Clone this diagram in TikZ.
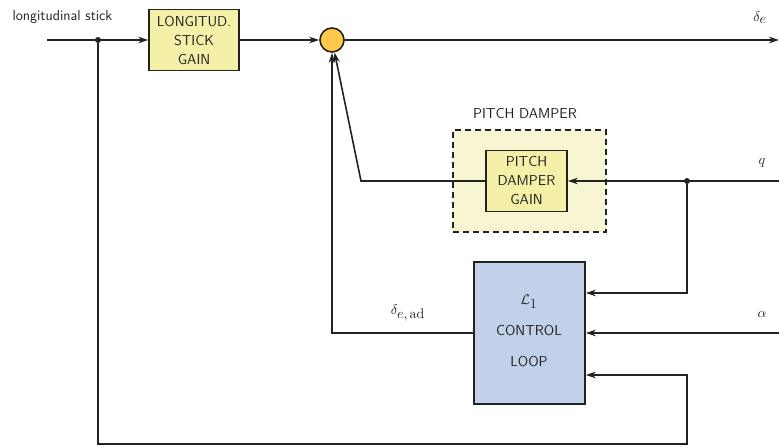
\documentclass[tikz,border=0pt]{standalone}
\usepackage{fontspec}
\usepackage{graphicx}
\usetikzlibrary{arrows.meta}
\definecolor{lnc}{HTML}{222222}
\definecolor{gainfill}{HTML}{F5F0A8}
\definecolor{pdfill}{HTML}{F8F6D2}
\definecolor{sumfill}{HTML}{FFC84A}
\definecolor{l1fill}{HTML}{C1D1EA}
\newcommand{\mybigmath}[1]{\scalebox{1.4}{$#1$}}
\begin{document}
\begin{tikzpicture}[x=1pt,y=-1pt,
  txt/.style={font=\sffamily\fontsize{14.4}{19}\selectfont, text=lnc},
  mlab/.style={text=lnc},
  gainbox/.style={draw=lnc, line width=1.6pt, fill=gainfill, align=center, inner sep=0pt, txt},
  sig/.style={draw=lnc, line width=1.6pt},
  arr/.style={sig, -{Stealth[length=10pt,width=6.5pt]}},
  junction/.style={circle, fill=lnc, inner sep=0pt, minimum size=6pt}]
\useasboundingbox (0,0) rectangle (779,447);
% nodes
\node[gainbox, minimum width=90pt, minimum height=61pt] (sg) at (194,40) {LONGITUD.\\STICK\\GAIN};
\node[circle, draw=lnc, line width=1.6pt, fill=sumfill, minimum size=24pt, inner sep=0pt] (sum) at (332,40) {};
\node[draw=lnc, line width=1.6pt, dashed, dash pattern=on 6pt off 4pt, fill=pdfill, minimum width=153pt, minimum height=102pt, inner sep=0pt] (pd) at (529.5,181) {};
\node[txt, anchor=base] (pdl) at (525,118) {PITCH DAMPER};
\node[gainbox, minimum width=81pt, minimum height=61pt] (pdg) at (526.5,181) {PITCH\\DAMPER\\GAIN};
\node[draw=lnc, line width=1.6pt, fill=l1fill, minimum width=111pt, minimum height=142pt, inner sep=0pt] (l1) at (529.5,333) {};
\node[mlab] (l1a) at (529,302) {\mybigmath{\mathcal{L}_{\textstyle 1}}};
\node[txt] (l1b) at (529,330) {CONTROL};
\node[txt] (l1c) at (529,361) {LOOP};
\node[txt, anchor=west] (lsl) at (9,17) {longitudinal stick};
\node[mlab] (del) at (760,18) {\mybigmath{\delta_{\textstyle e}}};
\node[mlab] (ql) at (762,163) {\mybigmath{q}};
\node[mlab] (al) at (762,314) {\mybigmath{\alpha}};
\node[mlab] (dad) at (408,313) {\mybigmath{\delta_{\textstyle e,\mathrm{ad}}}};
% coordinates
\coordinate (in) at (47,40);
\node[junction] (j1) at (98,40) {};
\coordinate (out) at (779,40);
\coordinate (qin) at (779,181);
\node[junction] (j2) at (687,181) {};
\coordinate (ain) at (779,333);
\coordinate (pdc) at (361,181);
\coordinate (dc) at (332,333);
\coordinate (b1) at (98,444);
\coordinate (b2) at (687,444);
% connectors
\draw[arr] (in) -- (sg.west);
\draw[arr] (sg.east) -- (sum.west);
\draw[arr] (sum.east) -- (out);
\draw[arr] (qin) -- (pdg.east);
\draw[arr] (pdg.west) -- (pdc) -- (sum);
\draw[arr] (l1.west |- dc) -- (dc) -- (sum.south);
\draw[arr] (j2) |- (l1.east |- 0,293);
\draw[arr] (ain) -- (l1.east |- ain);
\draw[arr] (j1) |- (b2) |- (l1.east |- 0,375);
\end{tikzpicture}
\end{document}
